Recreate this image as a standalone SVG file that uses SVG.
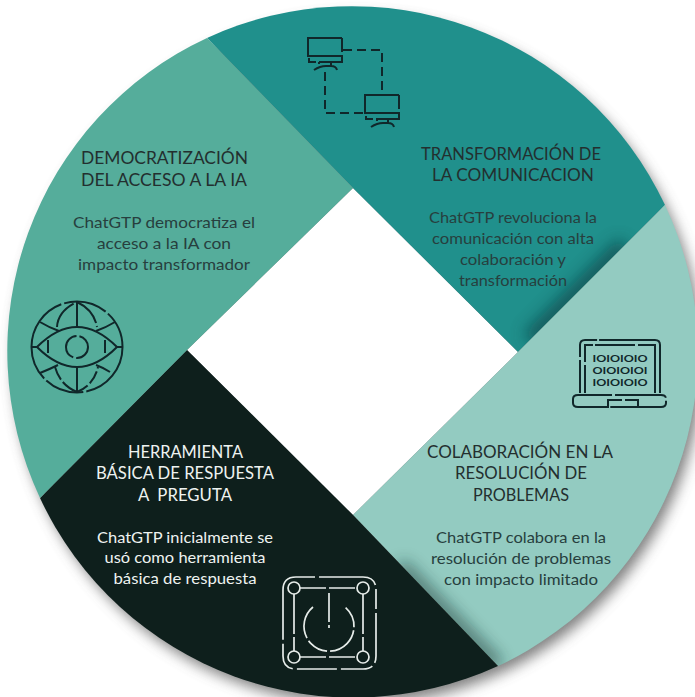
<svg xmlns="http://www.w3.org/2000/svg" width="695" height="697" viewBox="0 0 695 697">
<style>
text{font-family:Lato,"Open Sans","Liberation Sans",sans-serif;text-anchor:middle}
.h{font-size:17px}.b{font-size:16px}
.dk{fill:#232f2f}.md{fill:#273f3e}.w{fill:#eef3f1}
.bin{font-size:10px;font-weight:700;fill:#10272a}
.ic{fill:none;stroke:#10272a;stroke-width:2}
.iw{fill:none;stroke:#e6ece9;stroke-width:1.7}
</style>
<defs>
<filter id="sh" x="-10%" y="-10%" width="120%" height="120%"><feGaussianBlur stdDeviation="7"/></filter>
<filter id="s2" filterUnits="userSpaceOnUse" x="340" y="180" width="355" height="517"><feGaussianBlur stdDeviation="8"/></filter>
<clipPath id="ct"><path d="M207 38A346 346 0 0 1 665 205L518 352L353 188Z"/></clipPath>
<clipPath id="cr"><path d="M665 205A346 346 0 0 1 498 666L353 515L518 352Z"/></clipPath>
</defs>
<rect width="695" height="697" fill="#fff"/>
<g id="shadow"><circle cx="358" cy="360" r="344" fill="#555" opacity=".75" filter="url(#sh)"/><path d="M353 188L518 352L353 515L187 350Z" fill="#fff"/></g>
<g id="sector-top">
<path d="M207 38A346 346 0 0 1 665 205L518 352L353 188Z" fill="#20908c"/>
<g clip-path="url(#ct)"><path d="M530 340L625 245" stroke="#0b4044" stroke-width="18" opacity=".7" fill="none" filter="url(#s2)"/></g>
<g class="ic">
<path d="M342 56H308V38H342"/>
<path d="M342 38V62H309V58" stroke-dasharray="14 3 30 3"/>
<path d="M319 62V64M331 62V67M314 70Q320 66 326 66H331Q336 66 337 70"/>
<path d="M343 50H382V95" stroke-dasharray="9 5"/>
<path d="M325 72V113H365" stroke-dasharray="9 5"/>
<path d="M399 113H365V95H399"/>
<path d="M399 95V119H366V116" stroke-dasharray="14 3 30 3"/>
<path d="M377 119V121M388 119V124M371 127Q377 123 383 123H388Q393 123 394 127"/>
</g>
<text class="h dk" x="511" y="160" textLength="180" lengthAdjust="spacingAndGlyphs">TRANSFORMACIÓN DE</text>
<text class="h dk" x="513" y="181" textLength="162" lengthAdjust="spacingAndGlyphs">LA COMUNICACION</text>
<text class="b md" x="513" y="223" textLength="168" lengthAdjust="spacingAndGlyphs">ChatGTP revoluciona la</text>
<text class="b md" x="513" y="244" textLength="162" lengthAdjust="spacingAndGlyphs">comunicación con alta</text>
<text class="b md" x="513" y="265" textLength="106" lengthAdjust="spacingAndGlyphs">colaboración y</text>
<text class="b md" x="513" y="286" textLength="108" lengthAdjust="spacingAndGlyphs">transformación</text>
</g>
<g id="sector-right">
<path d="M665 205A346 346 0 0 1 498 666L353 515L518 352Z" fill="#93cbc1"/>
<g clip-path="url(#cr)"><path d="M400 565L498 666" stroke="#12302e" stroke-width="12" opacity=".65" fill="none" filter="url(#s2)"/></g>
<g class="ic">
<path d="M580 393V345Q580 340 585 340H655Q660 340 660 345V393" stroke-dasharray="33 3 32 2 200 3"/>
<path d="M585 393V345H655V393" stroke-dasharray="28 3 25 2 40 3 200 3"/>
<path d="M578 395H661Q666 395 666 399V403Q666 407 661 407H578Q573 407 573 403V399Q573 395 578 395" stroke-dasharray="34 3 52 3 60 3 200 3"/>
<path d="M608 408V400H638V408" stroke-dasharray="22 3 40 3"/>
</g>
<text class="bin" x="620" y="362" textLength="55" lengthAdjust="spacingAndGlyphs">IOIOIOIO</text>
<text class="bin" x="620" y="374" textLength="55" lengthAdjust="spacingAndGlyphs">OIOIOIOI</text>
<text class="bin" x="620" y="386" textLength="55" lengthAdjust="spacingAndGlyphs">IOIOIOIO</text>
<text class="h dk" x="520" y="458" textLength="186" lengthAdjust="spacingAndGlyphs">COLABORACIÓN EN LA</text>
<text class="h dk" x="521" y="479" textLength="132" lengthAdjust="spacingAndGlyphs">RESOLUCIÓN DE</text>
<text class="h dk" x="521" y="501" textLength="96" lengthAdjust="spacingAndGlyphs">PROBLEMAS</text>
<text class="b md" x="521" y="543" textLength="170" lengthAdjust="spacingAndGlyphs">ChatGTP colabora en la</text>
<text class="b md" x="521" y="564" textLength="180" lengthAdjust="spacingAndGlyphs">resolución de problemas</text>
<text class="b md" x="521" y="585" textLength="154" lengthAdjust="spacingAndGlyphs">con impacto limitado</text>
</g>
<g id="sector-bottom">
<path d="M353 515L187 350L40 498A346 346 0 0 0 498 666Z" fill="#0e1f1c"/>
<g class="iw">
<path d="M283 590Q283 577 296 577H363Q376 577 376 590V656Q376 669 363 669H296Q283 669 283 656V590" stroke-dasharray="40 4 60 4 20 4 50 4 32 4 40 4 30 4 200 4"/>
<circle cx="294" cy="588" r="6"/><circle cx="363" cy="588" r="6"/><circle cx="294" cy="657" r="6"/><circle cx="363" cy="657" r="6"/>
<path d="M300 588H357M300 657H357" stroke-dasharray="26 3"/>
<path d="M294 594V651M363 594V651" stroke-dasharray="40 3"/>
<path d="M313 607A25 25 0 1 0 345 607" stroke-dasharray="34 3 22 3"/>
<path d="M329 593V622M329 625V628"/>
</g>
<text class="h w" x="185.500" y="458" textLength="115" lengthAdjust="spacingAndGlyphs">HERRAMIENTA</text>
<text class="h w" x="185" y="479" textLength="178" lengthAdjust="spacingAndGlyphs">BÁSICA DE RESPUESTA</text>
<text class="h w" x="185" y="501" textLength="94" lengthAdjust="spacingAndGlyphs" xml:space="preserve">A  PREGUTA</text>
<text class="b w" x="185" y="543" textLength="176" lengthAdjust="spacingAndGlyphs">ChatGTP inicialmente se</text>
<text class="b w" x="185" y="563" textLength="161" lengthAdjust="spacingAndGlyphs">usó como herramienta</text>
<text class="b w" x="185" y="584" textLength="143" lengthAdjust="spacingAndGlyphs">básica de respuesta</text>
</g>
<g id="sector-left">
<path d="M187 350L353 188L207 38A346 346 0 0 0 40 498Z" fill="#55ad9b"/>
<g class="ic">
<circle cx="77" cy="347" r="45.500" stroke-dasharray="62 3 40 3 90 3 44 3"/>
<path d="M31 347H37M117 347H123"/>
<path d="M37 347Q77 307 117 347Q77 387 37 347Z"/>
<circle cx="77" cy="347" r="11" stroke-dasharray="18 3 30 3"/>
<path d="M77 302V327M77 367V392"/>
<path d="M57 327Q58 311 77 302Q94 310 97 327" stroke-dasharray="30 3"/>
<path d="M55 367Q60 385 77 392Q94 385 98 367" stroke-dasharray="14 3 30 3"/>
<path d="M40 322Q50 328 59 331M115 322Q105 328 96 331M40 373Q50 369 58 365M110 372Q104 368 96 365"/>
<path d="M48 340V353M105 340V353"/>
</g>
<text class="h dk" x="164.500" y="164" textLength="167" lengthAdjust="spacingAndGlyphs">DEMOCRATIZACIÓN</text>
<text class="h dk" x="164" y="186" textLength="166" lengthAdjust="spacingAndGlyphs">DEL ACCESO A LA IA</text>
<text class="b md" x="164" y="228" textLength="182" lengthAdjust="spacingAndGlyphs">ChatGTP democratiza el</text>
<text class="b md" x="164" y="249" textLength="134" lengthAdjust="spacingAndGlyphs">acceso a la IA con</text>
<text class="b md" x="164" y="270" textLength="172" lengthAdjust="spacingAndGlyphs">impacto transformador</text>
</g>
</svg>
